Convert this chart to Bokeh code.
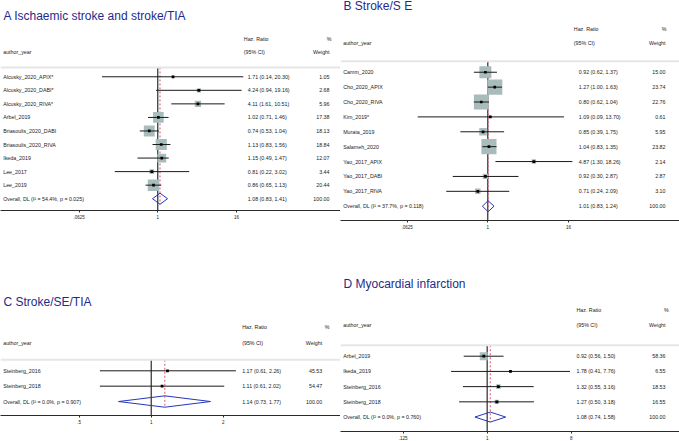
import numpy as np
from bokeh.plotting import figure
from bokeh.layouts import column, row
from bokeh.models import Range1d, FixedTicker, CustomJSTickFormatter, Span
from bokeh.core.properties import value
from bokeh.embed import file_html
from bokeh.resources import INLINE

# ---------------- data ----------------
a_title = "A Ischaemic stroke and stroke/TIA"
a_labels = ["Alcusky_2020_APIX*", "Alcusky_2020_DABI*", "Alcusky_2020_RIVA*", "Arbel_2019",
            "Briasoulis_2020_DABI", "Briasoulis_2020_RIVA", "Ikeda_2019", "Lee_2017", "Lee_2019"]
a_hr = [1.71, 4.24, 4.11, 1.02, 0.74, 1.13, 1.15, 0.81, 0.86]
a_lo = [0.14, 0.94, 1.61, 0.71, 0.53, 0.83, 0.49, 0.22, 0.65]
a_hi = [20.30, 19.16, 10.51, 1.46, 1.04, 1.56, 1.47, 3.02, 1.13]
a_wt = [1.05, 2.68, 5.96, 17.38, 18.13, 18.84, 12.07, 3.44, 20.44]
a_overall = [1.08, 0.83, 1.41]
a_i2, a_p = 54.4, 0.025
a_ticks = [0.0625, 1, 16]

b_title = "B Stroke/S E"
b_labels = ["Camm_2020", "Cho_2020_APIX", "Cho_2020_RIVA", "Kim_2019*", "Murata_2019",
            "Salameh_2020", "Yao_2017_APIX", "Yao_2017_DABI", "Yao_2017_RIVA"]
b_hr = [0.92, 1.27, 0.80, 1.09, 0.85, 1.04, 4.87, 0.92, 0.71]
b_lo = [0.62, 1.00, 0.62, 0.09, 0.39, 0.83, 1.30, 0.30, 0.24]
b_hi = [1.37, 1.63, 1.04, 13.70, 1.75, 1.35, 18.26, 2.87, 2.09]
b_wt = [15.00, 23.74, 22.76, 0.61, 5.95, 23.82, 2.14, 2.87, 3.10]
b_overall = [1.01, 0.83, 1.24]
b_i2, b_p = 37.7, 0.118
b_ticks = [0.0625, 1, 16]

c_title = "C Stroke/SE/TIA"
c_labels = ["Steinberg_2016", "Steinberg_2018"]
c_hr = [1.17, 1.11]
c_lo = [0.61, 0.61]
c_hi = [2.26, 2.02]
c_wt = [45.53, 54.47]
c_overall = [1.14, 0.73, 1.77]
c_i2, c_p = 0.0, 0.907
c_ticks = [0.5, 1, 2]

d_title = "D Myocardial infarction"
d_labels = ["Arbel_2019", "Ikeda_2019", "Steinberg_2016", "Steinberg_2018"]
d_hr = [0.92, 1.78, 1.32, 1.27]
d_lo = [0.56, 0.41, 0.55, 0.50]
d_hi = [1.50, 7.76, 3.16, 3.18]
d_wt = [58.36, 6.55, 18.53, 16.55]
d_overall = [1.08, 0.74, 1.58]
d_i2, d_p = 0.0, 0.760
d_ticks = [0.125, 1, 8]

# ---------------- style ----------------
FONT = "Liberation Sans"
TXT = "5.3px"
TITLE_COLOR = "#1f2a8a"
DIAMOND_COLOR = "#2536bb"
BOX_COLOR = "#a9bcbc"
REF_COLOR = "#d4566c"


def panel(title, labels, hr, lo, hi, wt, overall, i2, pval, ticks, g):
    n = len(labels)
    rows = list(range(n))
    x0, x1 = 2.0 ** g["xl"], 2.0 ** g["xr"]
    p = figure(frame_width=g["fw"], frame_height=g["fh"], x_axis_type="log",
               x_range=Range1d(x0, x1), y_range=Range1d(g["yb"], g["yt"]),
               y_axis_location=None, output_backend="svg", toolbar_location=None,
               min_border=0, background_fill_color="white", border_fill_color="white")
    p.outline_line_color = None
    p.grid.visible = False

    # separator
    p.add_layout(Span(location=g["sep"], dimension="width", line_color="#e6e6e6", line_width=2))
    # null line
    p.segment(x0=[1], y0=[g["sep"]], x1=[1], y1=[g["yb"]], line_color="black", line_width=1)
    # overall reference line
    p.segment(x0=[overall[0]], y0=[g["sep"]], x1=[overall[0]], y1=[n + g["dh"]],
              line_color=REF_COLOR, line_width=1, line_dash="2 2")
    # weight boxes
    if g["box_k"] > 0:
        p.scatter(x=hr, y=rows, size=[g["box_k"] * np.sqrt(w) for w in wt], marker="square",
                  fill_color=BOX_COLOR, line_color=None)
    # CIs
    p.segment(x0=lo, y0=rows, x1=hi, y1=rows, line_color="#1a1a1a", line_width=1)
    p.scatter(x=hr, y=rows, size=2.7, marker="square", fill_color="black", line_color=None)
    # diamond
    dh = g["dh"]
    p.patch(x=[overall[1], overall[0], overall[2], overall[0]],
            y=[n, n - dh, n, n + dh], fill_color=None, line_color=DIAMOND_COLOR, line_width=1)

    common = dict(text_font=value(FONT), text_font_size=TXT, text_baseline="middle", text_color="#1a1a1a")
    W = g["W"]
    all_rows = rows + [n]
    ov_label = f"Overall, DL (I\u00b2 = {i2:.1f}%, p = {pval:.3f})"
    # study labels
    p.text(x=[x0] * (n + 1), y=all_rows, text=list(labels) + [ov_label],
           x_offset=2.7, text_align="left", **common)
    # CI text
    ci_txt = [f"{h:.2f} ({l:.2f}, {u:.2f})" for h, l, u in zip(hr, lo, hi)]
    ci_txt.append(f"{overall[0]:.2f} ({overall[1]:.2f}, {overall[2]:.2f})")
    p.text(x=[x0] * (n + 1), y=all_rows, text=ci_txt, x_offset=g["ci"], text_align="left", **common)
    # weight text
    wt_txt = [f"{w:.2f}" for w in wt] + [f"{100:.2f}"]
    p.text(x=[x1] * (n + 1), y=all_rows, text=wt_txt, x_offset=-(W - g["wr"]),
           text_align="right", **common)
    # headers
    p.text(x=[x0, x0], y=[g["h1"], g["h2"]], text=["Haz. Ratio", "(95% CI)"],
           x_offset=g["hz"], text_align="left", **common)
    p.text(x=[x0], y=[g["h2"]], text=["author_year"], x_offset=2.7, text_align="left", **common)
    p.text(x=[x1], y=[g["h1"]], text=["%"], x_offset=-(W - g["pr"]), text_align="right", **common)
    p.text(x=[x1], y=[g["h2"]], text=["Weight"], x_offset=-(W - g["wr"]), text_align="right", **common)
    # title
    p.text(x=[x0], y=[g["ty"]], text=[title], x_offset=3, text_align="left",
           text_baseline="middle", text_font=value(FONT), text_font_size="12px", text_color=TITLE_COLOR)

    ax = p.xaxis[0]
    ax.ticker = FixedTicker(ticks=ticks)
    ax.formatter = CustomJSTickFormatter(code="""
        const s = String(tick);
        return s.startsWith("0.") ? s.slice(1) : s;
    """)
    ax.major_label_text_font = FONT
    ax.major_label_text_font_size = "4.5px"
    ax.major_label_text_color = "#1a1a1a"
    ax.axis_line_color = "#2a2a2a"
    ax.major_tick_line_color = "#2a2a2a"
    ax.major_tick_out = 2
    ax.major_tick_in = 0
    ax.minor_tick_line_color = None
    ax.major_label_standoff = 2
    return p


gA = dict(W=340, xl=-7.99, xr=9.28, yb=9.87, yt=-5.63, fw=340, fh=210, ty=-4.45, h1=-2.80, h2=-1.82,
          sep=-0.69, hz=243.3, ci=247.3, wr=329, pr=331, box_k=2.55, dh=0.41)
gB = dict(W=339, xl=-7.30, xr=9.50, yb=9.96, yt=-4.82, fw=339, fh=220, ty=-4.45, h1=-2.91, h2=-1.97,
          sep=-0.74, hz=233.3, ci=238.3, wr=325, pr=326, box_k=3.1, dh=0.37)
gC = dict(W=340, xl=-2.093, xr=2.629, yb=2.91, yt=-9.07, fw=340, fh=184, ty=-4.45, h1=-2.82, h2=-1.84,
          sep=-0.72, hz=241.7, ci=241.7, wr=321.7, pr=329, box_k=0, dh=0.37)
gD = dict(W=339, xl=-5.23, xr=6.86, yb=4.95, yt=-8.20, fw=339, fh=200, ty=-4.75, h1=-3.06, h2=-2.08,
          sep=-0.72, hz=236, ci=236, wr=325, pr=328.3, box_k=1.05, dh=0.33)

pA = panel(a_title, a_labels, a_hr, a_lo, a_hi, a_wt, a_overall, a_i2, a_p, a_ticks, gA)
pB = panel(b_title, b_labels, b_hr, b_lo, b_hi, b_wt, b_overall, b_i2, b_p, b_ticks, gB)
pC = panel(c_title, c_labels, c_hr, c_lo, c_hi, c_wt, c_overall, c_i2, c_p, c_ticks, gC)
pD = panel(d_title, d_labels, d_hr, d_lo, d_hi, d_wt, d_overall, d_i2, d_p, d_ticks, gD)

layout = column(row(pA, pB), row(pC, pD))
open("out.html", "w").write(file_html(layout, INLINE))
